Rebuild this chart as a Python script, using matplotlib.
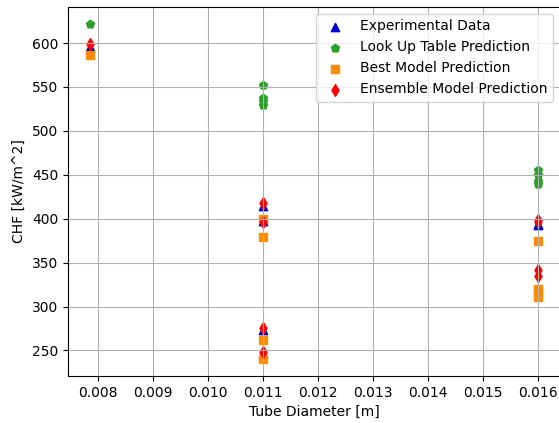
import matplotlib
matplotlib.use("Agg")
import matplotlib.pyplot as plt

# tube diameters [m]
d_small = 0.00787
d_mid = 0.011
d_big = 0.016

exp_x = [d_small, d_mid, d_mid, d_mid, d_mid, d_big, d_big]
exp_chf = [595, 415, 397, 273, 246, 394, 393]

lut_x = [d_small, d_mid, d_mid, d_mid, d_mid, d_big, d_big, d_big, d_big]
lut_chf = [622, 552, 538, 534, 530, 455, 450, 443, 440]

best_x = [d_small, d_mid, d_mid, d_mid, d_mid, d_big, d_big, d_big, d_big]
best_chf = [586, 400, 379, 262, 240, 375, 320, 315, 311]

ens_x = [d_small, d_mid, d_mid, d_mid, d_mid, d_big, d_big, d_big, d_big]
ens_chf = [599, 418, 396, 275, 248, 398, 396, 342, 335]

fig = plt.figure(figsize=(5.59, 4.23), dpi=100)
ax = fig.add_axes([68/559, 47/423, 492/559, 369/423])

ax.scatter(exp_x, exp_chf, marker='^', c='mediumblue', label='Experimental Data')
ax.scatter(lut_x, lut_chf, marker='p', c='tab:green', label='Look Up Table Prediction')
ax.scatter(best_x, best_chf, marker='s', c='darkorange', label='Best Model Prediction')
ax.scatter(ens_x, ens_chf, marker='d', c='red', label='Ensemble Model Prediction')

ax.set_xlabel('Tube Diameter [m]')
ax.set_ylabel('CHF [kW/m^2]')
ax.grid(True)
ax.legend(loc='upper right')

fig.savefig('out.png', dpi=100)
